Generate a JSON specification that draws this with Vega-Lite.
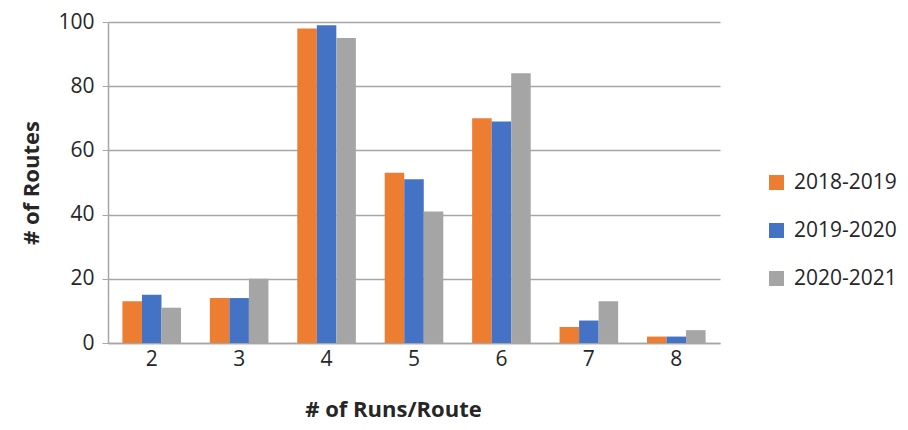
{
  "$schema": "https://vega.github.io/schema/vega-lite/v6.json",
  "autosize": "none",
  "width": 612,
  "height": 321,
  "padding": {"left": 108, "top": 22, "right": 188, "bottom": 87},
  "background": "white",
  "config": {
    "view": {"stroke": null},
    "font": "Open Sans"
  },
  "data": {
    "values": [
      {"runs": "2", "season": "2018-2019", "routes": 13},
      {"runs": "2", "season": "2019-2020", "routes": 15},
      {"runs": "2", "season": "2020-2021", "routes": 11},
      {"runs": "3", "season": "2018-2019", "routes": 14},
      {"runs": "3", "season": "2019-2020", "routes": 14},
      {"runs": "3", "season": "2020-2021", "routes": 20},
      {"runs": "4", "season": "2018-2019", "routes": 98},
      {"runs": "4", "season": "2019-2020", "routes": 99},
      {"runs": "4", "season": "2020-2021", "routes": 95},
      {"runs": "5", "season": "2018-2019", "routes": 53},
      {"runs": "5", "season": "2019-2020", "routes": 51},
      {"runs": "5", "season": "2020-2021", "routes": 41},
      {"runs": "6", "season": "2018-2019", "routes": 70},
      {"runs": "6", "season": "2019-2020", "routes": 69},
      {"runs": "6", "season": "2020-2021", "routes": 84},
      {"runs": "7", "season": "2018-2019", "routes": 5},
      {"runs": "7", "season": "2019-2020", "routes": 7},
      {"runs": "7", "season": "2020-2021", "routes": 13},
      {"runs": "8", "season": "2018-2019", "routes": 2},
      {"runs": "8", "season": "2019-2020", "routes": 2},
      {"runs": "8", "season": "2020-2021", "routes": 4}
    ]
  },
  "mark": {"type": "bar"},
  "encoding": {
    "x": {
      "field": "runs",
      "type": "ordinal",
      "scale": {"paddingInner": 0.33, "paddingOuter": 0.165},
      "axis": {
        "title": "# of Runs/Route",
        "titleFontSize": 22,
        "titleFontWeight": "bold",
        "titleColor": "#262626",
        "titlePadding": 30,
        "titleX": 285,
        "labelAngle": 0,
        "labelFontSize": 21,
        "labelColor": "#262626",
        "labelPadding": 5,
        "ticks": false,
        "domainColor": "#a6a6a6",
        "domainWidth": 1.5,
        "grid": false
      }
    },
    "xOffset": {"field": "season", "type": "nominal", "scale": {"paddingInner": 0, "paddingOuter": 0}},
    "y": {
      "field": "routes",
      "type": "quantitative",
      "scale": {"domain": [0, 100]},
      "axis": {
        "title": "# of Routes",
        "titleFontSize": 22,
        "titleFontWeight": "bold",
        "titleColor": "#262626",
        "titlePadding": 14,
        "values": [0, 20, 40, 60, 80, 100],
        "labelFontSize": 21,
        "labelColor": "#262626",
        "labelPadding": 8,
        "tickColor": "#a6a6a6",
        "tickSize": 6,
        "domainColor": "#a6a6a6",
        "domainWidth": 1.5,
        "gridColor": "#a6a6a6",
        "gridWidth": 1.5
      }
    },
    "color": {
      "field": "season",
      "type": "nominal",
      "scale": {
        "domain": ["2018-2019", "2019-2020", "2020-2021"],
        "range": ["#ED7D31", "#4472C4", "#A5A5A5"]
      },
      "legend": {
        "title": null,
        "orient": "none",
        "legendX": 658,
        "legendY": 150,
        "symbolType": "square",
        "symbolSize": 225,
        "symbolStrokeWidth": 0,
        "labelFontSize": 21,
        "labelColor": "#262626",
        "rowPadding": 26,
        "labelOffset": 7
      }
    }
  }
}
